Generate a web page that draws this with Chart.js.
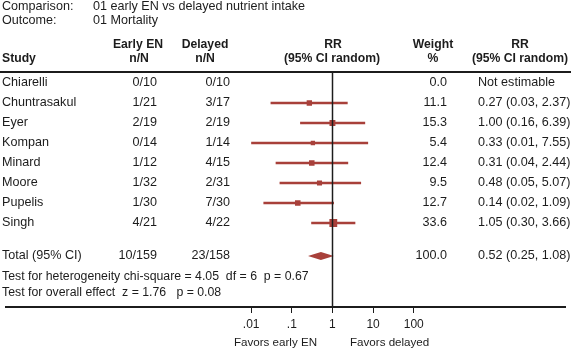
<!DOCTYPE html>
<html>
<head>
<meta charset="utf-8">
<script src="https://cdn.jsdelivr.net/npm/chart.js@4.4.1/dist/chart.umd.min.js"></script>
<style>
  body { margin: 0; background: #fff; }
  canvas { display: block; }
</style>
</head>
<body>
<canvas id="forest" width="571" height="351"></canvas>
<script>
// Study data
const studies = ['Chiarelli', 'Chuntrasakul', 'Eyer', 'Kompan', 'Minard', 'Moore', 'Pupelis', 'Singh'];
const earlyEN = ['0/10', '1/21', '2/19', '0/14', '1/12', '1/32', '1/30', '4/21'];
const delayed = ['0/10', '3/17', '2/19', '1/14', '4/15', '2/31', '7/30', '4/22'];
const rr = [null, 0.27, 1.00, 0.33, 0.31, 0.48, 0.14, 1.05];
const rrLow = [null, 0.03, 0.16, 0.01, 0.04, 0.05, 0.02, 0.30];
const rrHigh = [null, 2.37, 6.39, 7.55, 2.44, 5.07, 1.09, 3.66];
const weight = [0.0, 11.1, 15.3, 5.4, 12.4, 9.5, 12.7, 33.6];

// Pooled result
const totalLabel = 'Total (95% CI)';
const totalEarly = '10/159';
const totalDelayed = '23/158';
const totalRR = [0.52, 0.25, 1.08]; // estimate, low, high
const totalWeight = 100.0;

const testLines = [
    'Test for heterogeneity chi-square = 4.05  df = 6  p = 0.67',
    'Test for overall effect  z = 1.76   p = 0.08'
];

const xTicks = [0.01, 0.1, 1, 10, 100];
const xTickLabels = ['.01', '.1', '1', '10', '100'];

const RED = '#a8403a';
const INK = '#1c1c1c';
const FONT = '"Liberation Sans", Arial, Helvetica, sans-serif';
const FS = 12.6;
const TOTAL_ROW = 8.65;

const fmt = v => v.toFixed(2);

// CI whiskers, one small line per study
const ciSets = studies.map((s, i) => ({
    label: s + ' CI',
    data: rr[i] === null ? [] : [{ x: rrLow[i], y: i }, { x: rrHigh[i], y: i }],
    showLine: true,
    borderColor: RED,
    borderWidth: 2.5,
    pointRadius: 0,
    order: 2
}));

// weighted squares (side grows with the square root of the weight)
const pointSet = {
    label: 'RR',
    data: studies.map((s, i) => rr[i] === null ? null : { x: rr[i], y: i, w: weight[i] }).filter(p => p),
    pointStyle: 'rect',
    pointRadius: ctx => {
        const p = ctx.raw;
        return p ? (2 + 1.0 * Math.sqrt(p.w)) / 1.414 : 0;
    },
    backgroundColor: RED,
    borderWidth: 0,
    order: 0
};

const tablePlugin = {
    id: 'forestTable',
    afterDraw(chart) {
        const ctx = chart.ctx;
        const x = chart.scales.x;
        const y = chart.scales.y;
        const area = chart.chartArea;
        const text = (t, px, py, align, bold, size) => {
            ctx.font = (bold ? 'bold ' : '') + (size || FS) + 'px ' + FONT;
            ctx.textAlign = align || 'left';
            ctx.fillText(t, px, py);
        };
        const head = (t, px, py, align) => text(t, px, py, align, true, 12.2);
        ctx.save();
        ctx.fillStyle = INK;
        ctx.textBaseline = 'middle';

        // titles
        text('Comparison:', 2, 7);
        text('01 early EN vs delayed nutrient intake', 93, 7);
        text('Outcome:', 2, 21);
        text('01 Mortality', 93, 21);

        // column headers
        head('Study', 2, 59, 'left');
        head('Early EN', 138, 45, 'center');
        head('n/N', 139, 59, 'center');
        head('Delayed', 205, 45, 'center');
        head('n/N', 205, 59, 'center');
        head('RR', 333, 45, 'center');
        head('(95% CI random)', 332, 59, 'center');
        head('Weight', 433, 45, 'center');
        head('%', 433, 59, 'center');
        head('RR', 520, 45, 'center');
        head('(95% CI random)', 520, 59, 'center');

        // study rows
        studies.forEach((s, i) => {
            const py = y.getPixelForValue(i);
            text(s, 2, py);
            text(earlyEN[i], 157, py, 'right');
            text(delayed[i], 230, py, 'right');
            text(weight[i].toFixed(1), 447, py, 'right');
            const r = rr[i] === null ? 'Not estimable'
                : fmt(rr[i]) + ' (' + fmt(rrLow[i]) + ', ' + fmt(rrHigh[i]) + ')';
            text(r, 478, py);
        });

        // total row
        const ty = y.getPixelForValue(TOTAL_ROW);
        text(totalLabel, 2, ty);
        text(totalEarly, 157, ty, 'right');
        text(totalDelayed, 230, ty, 'right');
        text(totalWeight.toFixed(1), 447, ty, 'right');
        text(fmt(totalRR[0]) + ' (' + fmt(totalRR[1]) + ', ' + fmt(totalRR[2]) + ')', 478, ty);

        text(testLines[0], 2, 277, 'left', false, 12.3);
        text(testLines[1], 2, 293, 'left', false, 12.3);

        text('Favors early EN', 317, 343, 'right', false, 11.6);
        text('Favors delayed', 350, 343, 'left', false, 11.6);

        // pooled diamond
        const xl = x.getPixelForValue(totalRR[1]);
        const xm = x.getPixelForValue(totalRR[0]);
        const xr = x.getPixelForValue(totalRR[2]);
        ctx.fillStyle = RED;
        ctx.beginPath();
        ctx.moveTo(xl, ty);
        ctx.lineTo(xm, ty - 4);
        ctx.lineTo(xr, ty);
        ctx.lineTo(xm, ty + 4);
        ctx.closePath();
        ctx.fill();

        // header rule and line of no effect
        ctx.strokeStyle = INK;
        ctx.lineWidth = 2;
        ctx.beginPath();
        ctx.moveTo(0, area.top);
        ctx.lineTo(chart.width, area.top);
        ctx.stroke();
        const x1 = Math.round(x.getPixelForValue(1)) + 0.5;
        ctx.lineWidth = 1.5;
        ctx.beginPath();
        ctx.moveTo(x1, area.top);
        ctx.lineTo(x1, area.bottom);
        ctx.stroke();
        ctx.restore();
    }
};

const ctx = document.getElementById('forest').getContext('2d');
const forestChart = new Chart(ctx, {
    type: 'scatter',
    data: { datasets: [pointSet, ...ciSets] },
    options: {
        responsive: false,
        animation: false,
        layout: { padding: { top: 72, left: 0, right: 0, bottom: 0 } },
        scales: {
            x: {
                type: 'logarithmic',
                min: Math.pow(10, -8.024),
                max: Math.pow(10, 5.735),
                afterBuildTicks: scale => {
                    scale.ticks = xTicks.map(v => ({ value: v }));
                },
                afterFit: scale => { scale.height = 44; },
                ticks: {
                    autoSkip: false,
                    maxRotation: 0,
                    padding: 4,
                    color: INK,
                    font: { family: FONT, size: 12 },
                    callback: (v, i) => xTickLabels[i]
                },
                grid: {
                    drawOnChartArea: false,
                    drawTicks: true,
                    tickLength: 6,
                    color: INK,
                    lineWidth: 1
                },
                border: { display: true, color: INK, width: 2 }
            },
            y: {
                type: 'linear',
                reverse: true,
                min: -0.55,
                max: 11.2,
                display: false
            }
        },
        plugins: {
            legend: { display: false },
            tooltip: { enabled: false }
        }
    },
    plugins: [tablePlugin]
});
</script>
</body>
</html>
